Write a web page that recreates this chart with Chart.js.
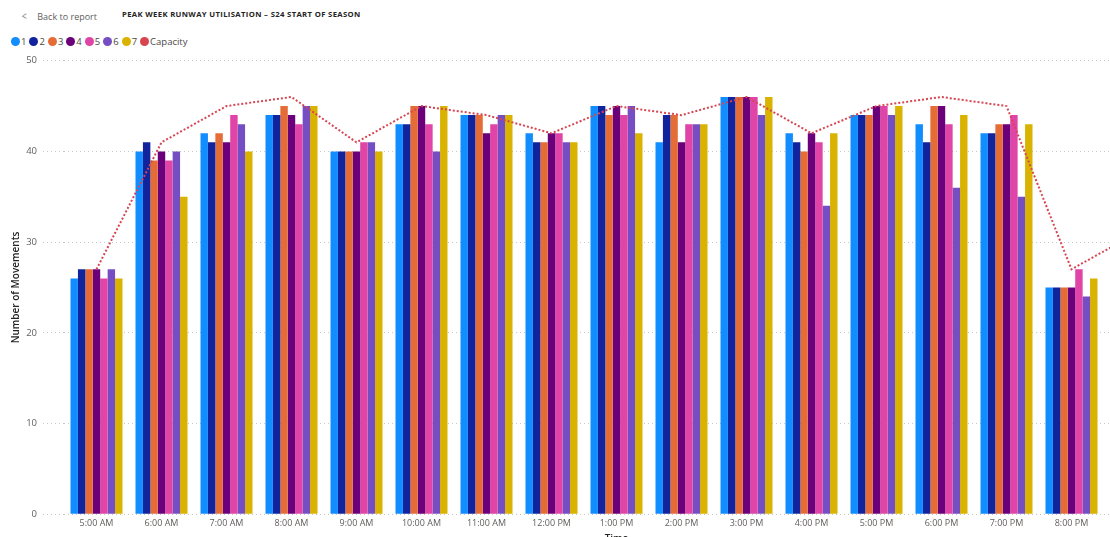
<!DOCTYPE html>
<html>
<head>
<meta charset="utf-8">
<script src="https://cdn.jsdelivr.net/npm/chart.js@4/dist/chart.umd.min.js"></script>
<style>
  html, body { margin: 0; padding: 0; background: #fff; overflow: hidden; width: 1110px; height: 537px; }
  #hdr { position: absolute; left: 0; top: 0; width: 1110px; height: 30px; font-family: "Open Sans", sans-serif; }
  #back { position: absolute; left: 21px; top: 8px; font-size: 9px; color: #605E5C; }
  #back .chev { display: inline-block; margin-right: 10px; font-size: 11px; transform: scaleX(0.8); color: #7a7876; }
  #title { position: absolute; left: 122px; top: 9px; font-size: 7.7px; font-weight: 700; color: #252423; letter-spacing: 0.35px; }
  #legend { position: absolute; left: 11px; top: 34px; height: 14px; display: flex; align-items: center; font-family: "Open Sans", sans-serif; font-size: 9.5px; color: #4a4846; }
  #legend .it { display: inline-flex; align-items: center; margin-right: 3px; }
  #legend .dot { width: 9px; height: 9px; border-radius: 50%; margin-right: 1px; }
  #wrap { position: absolute; left: 0; top: 49px; width: 1172px; height: 496px; }
</style>
</head>
<body>
<div id="hdr">
  <div id="back"><span class="chev">&lt;</span>Back to report</div>
  <div id="title">PEAK WEEK RUNWAY UTILISATION – S24 START OF SEASON</div>
</div>
<div id="legend"></div>
<div id="wrap"><canvas id="c"></canvas></div>
<script>
const categories = ['5:00 AM','6:00 AM','7:00 AM','8:00 AM','9:00 AM','10:00 AM','11:00 AM','12:00 PM','1:00 PM','2:00 PM','3:00 PM','4:00 PM','5:00 PM','6:00 PM','7:00 PM','8:00 PM','9:00 PM'];
const series1 = [26,40,42,44,40,43,44,42,45,41,46,42,44,43,42,25,null];
const series2 = [27,41,41,44,40,43,44,41,45,44,46,41,44,41,42,25,null];
const series3 = [27,39,42,45,40,45,44,41,44,44,46,40,44,45,43,25,null];
const series4 = [27,40,41,44,40,45,42,42,45,41,46,42,45,45,43,25,null];
const series5 = [26,39,44,43,41,43,43,42,44,43,46,41,45,43,44,27,null];
const series6 = [27,40,43,45,41,40,44,41,45,43,44,34,44,36,35,24,null];
const series7 = [26,35,40,45,40,45,44,41,42,43,46,42,45,44,43,26,null];
const capacity = [27,41,45,46,41,45,44,42,45,44,46,42,45,46,45,27,31];
const yTicks = [0,10,20,30,40,50];

const seriesNames = ['1','2','3','4','5','6','7'];
const seriesData = [series1,series2,series3,series4,series5,series6,series7];
const colors = ['#118DFF','#12239E','#E66C37','#6B007B','#E044A7','#744EC2','#D9B300'];
const capColor = '#D64550';
const FONT = '"Open Sans", sans-serif';

const datasets = seriesData.map((d,i)=>({
  type:'bar', label: seriesNames[i], data: d,
  backgroundColor: colors[i], borderWidth: 0,
  categoryPercentage: 0.8, barPercentage: 1.0, order: 1
}));
datasets.push({
  type:'line', label:'Capacity', data: capacity,
  borderColor: capColor, backgroundColor: capColor,
  borderWidth: 2, borderDash: [2,2], pointRadius: 0, tension: 0,
  order: 0, clip: false
});

// HTML legend built from the datasets
const lg = document.getElementById('legend');
datasets.forEach(ds=>{
  const it = document.createElement('span'); it.className='it';
  const dot = document.createElement('span'); dot.className='dot';
  dot.style.background = ds.type==='line' ? capColor : ds.backgroundColor;
  const t = document.createElement('span'); t.textContent = ds.label;
  it.appendChild(dot); it.appendChild(t); lg.appendChild(it);
});

new Chart(document.getElementById('c'), {
  type: 'bar',
  data: { labels: categories, datasets },
  options: {
    responsive: true, maintainAspectRatio: false, animation: false,
    layout: { padding: { left: 10, right: 3, top: 0, bottom: 0 } },
    plugins: {
      tooltip: { enabled: false },
      legend: { display: false }
    },
    scales: {
      x: {
        offset: true,
        grid: { display: false, drawTicks: false },
        border: { display: false },
        ticks: { color: '#605E5C', font: { family: FONT, size: 9 }, padding: 4, maxRotation: 0, autoSkip: false },
        title: { display: true, text: 'Time', color: '#252423', font: { family: FONT, size: 10, weight: '600' }, padding: { top: 0, bottom: 0 } }
      },
      y: {
        min: 0, max: 50,
        afterBuildTicks: (s)=>{ s.ticks = yTicks.map(v=>({value:v})); },
        afterFit: (s)=>{ s.width = 54; },
        grid: { color: '#C8C6C4', lineWidth: 1, drawTicks: true, tickLength: 21, tickColor: '#C8C6C4', tickBorderDash: [1,3] },
        border: { display: false, dash: [1,3] },
        ticks: { color: '#605E5C', font: { family: FONT, size: 9.5 }, padding: 6 },
        title: { display: true, text: 'Number of Movements', color: '#252423', font: { family: FONT, size: 10, weight: '600' }, padding: { top: 0, bottom: 0 } }
      }
    }
  }
});
</script>
</body>
</html>
